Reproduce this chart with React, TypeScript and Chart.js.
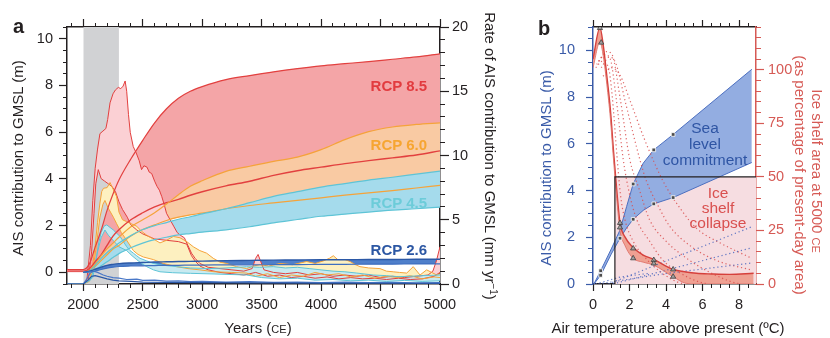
import React, { useEffect, useRef } from "react";
import { Chart, registerables } from "chart.js";

Chart.register(...registerables);

const FONT = "'Liberation Sans', Arial, Helvetica, sans-serif";
const DARK = "#231f20";

/* ================= Panel a data ================= */
const yearMin = 1863;
const yearMax = 5000;
const yearTicks = [2000, 2500, 3000, 3500, 4000, 4500, 5000];
const gmslTicks = [0, 2, 4, 6, 8, 10];
const rateTicks = [0, 5, 10, 15, 20];
const spinUpPeriod = [2000, 2300];

// AIS contribution to GMSL (m), left axis
const gmslYears = [1863, 2000, 2050, 2100, 2150, 2200, 2250, 2300, 2400, 2500, 2600, 2700, 2800, 2900, 3000, 3200, 3400, 3600, 3800, 4000, 4200, 4400, 4600, 4800, 5000];
const rcp85High = [0.12, 0.12, 0.35, 1.08, 1.8, 2.65, 3.35, 3.95, 4.85, 5.65, 6.4, 7.0, 7.45, 7.75, 7.95, 8.25, 8.42, 8.58, 8.72, 8.84, 8.93, 9.02, 9.12, 9.22, 9.35];
const rcp85Low = [0, 0, 0.04, 0.2, 0.45, 0.7, 0.95, 1.12, 1.5, 1.8, 2.0, 2.2, 2.35, 2.45, 2.52, 2.7, 2.85, 2.96, 3.07, 3.18, 3.29, 3.39, 3.49, 3.6, 3.71];
const rcp85Mid = [0.05, 0.05, 0.15, 0.45, 0.75, 1.15, 1.55, 1.82, 2.25, 2.55, 2.8, 2.98, 3.12, 3.3, 3.45, 3.7, 3.9, 4.15, 4.35, 4.5, 4.65, 4.78, 4.9, 5.02, 5.2];
const rcp60High = [null, 0, 0.08, 0.35, 0.7, 1.0, 1.25, 1.5, 1.95, 2.25, 2.55, 2.92, 3.32, 3.68, 3.92, 4.32, 4.54, 4.75, 4.93, 5.25, 5.68, 6.02, 6.22, 6.33, 6.4];
const rcp60Low = [null, 0, 0.05, 0.25, 0.5, 0.75, 1.0, 1.15, 1.55, 1.83, 2.03, 2.22, 2.36, 2.46, 2.53, 2.72, 2.86, 2.97, 3.08, 3.19, 3.3, 3.4, 3.5, 3.61, 3.72];
const rcp45High = [null, 0, 0.05, 0.3, 0.6, 0.85, 1.05, 1.25, 1.57, 1.83, 2.0, 2.13, 2.27, 2.38, 2.5, 2.72, 2.98, 3.25, 3.45, 3.65, 3.8, 3.95, 4.07, 4.2, 4.33];
const rcp45Low = [null, 0, 0.02, 0.1, 0.28, 0.45, 0.63, 0.8, 1.05, 1.25, 1.4, 1.5, 1.6, 1.66, 1.72, 1.82, 1.95, 2.12, 2.26, 2.4, 2.49, 2.58, 2.66, 2.72, 2.79];
const rcp26High = [null, 0, 0.05, 0.13, 0.22, 0.3, 0.34, 0.37, 0.4, 0.42, 0.44, 0.45, 0.46, 0.47, 0.48, 0.5, 0.51, 0.52, 0.53, 0.54, 0.54, 0.55, 0.55, 0.56, 0.56];
const rcp26Low = [null, 0, 0.02, 0.05, 0.12, 0.18, 0.22, 0.25, 0.27, 0.28, 0.29, 0.3, 0.3, 0.31, 0.31, 0.32, 0.32, 0.33, 0.33, 0.34, 0.34, 0.35, 0.35, 0.36, 0.36];

// Rate of AIS contribution (mm/yr), right axis: [year, value]
const rate85High = [[1863, 0], [2000, 0], [2030, 0.3], [2060, 3.0], [2080, 6.5], [2100, 9.0], [2120, 10.5], [2140, 11.7], [2165, 11.9], [2190, 12.1], [2205, 12.8], [2225, 14.1], [2250, 14.8], [2270, 15.1], [2295, 15.3], [2315, 15.2], [2335, 15.4], [2352, 15.8], [2365, 15.0], [2380, 13.2], [2395, 11.8], [2420, 10.7], [2445, 10.2], [2470, 9.6], [2490, 8.9], [2510, 9.2], [2535, 9.1], [2555, 8.7], [2575, 8.6], [2600, 8.0], [2620, 7.6], [2640, 7.3], [2660, 6.8], [2680, 6.2], [2700, 5.5], [2730, 5.0], [2760, 4.5], [2790, 4.0], [2815, 3.8], [2850, 3.6], [2880, 3.0], [2910, 2.4], [2940, 2.0], [2980, 1.6], [3050, 1.3], [3150, 1.2], [3250, 1.1], [3350, 1.0], [3420, 1.2], [3450, 2.0], [3470, 2.3], [3490, 1.8], [3520, 1.1], [3600, 0.9], [3700, 0.8], [3800, 0.9], [3900, 0.7], [4000, 0.8], [4100, 0.6], [4200, 0.7], [4300, 0.6], [4400, 0.7], [4500, 0.5], [4600, 0.6], [4700, 0.5], [4800, 0.6], [4900, 0.7], [4940, 1.0], [4970, 1.8], [5000, 2.9]];
const rate85Low = [[1863, 0], [2000, 0], [2040, 0.2], [2070, 2.5], [2090, 5.5], [2105, 7.8], [2126, 8.9], [2150, 8.2], [2180, 8.0], [2210, 7.8], [2240, 7.6], [2270, 7.2], [2300, 6.4], [2330, 5.8], [2370, 5.2], [2400, 4.6], [2450, 4.2], [2500, 3.9], [2550, 3.7], [2600, 3.5], [2700, 3.4], [2800, 3.3], [2870, 3.1], [2910, 2.2], [2940, 1.8], [2980, 1.4], [3050, 1.1], [3150, 0.9], [3250, 0.8], [3350, 0.7], [3450, 0.9], [3550, 0.6], [3650, 0.7], [3750, 0.5], [3850, 0.6], [3950, 0.45], [4050, 0.55], [4150, 0.4], [4250, 0.5], [4350, 0.4], [4450, 0.45], [4550, 0.35], [4650, 0.45], [4750, 0.35], [4850, 0.4], [4950, 0.6], [5000, 0.9]];
const rate60High = [[1863, 0], [2000, 0], [2050, 0.3], [2080, 1.5], [2100, 3.0], [2120, 4.8], [2140, 6.3], [2155, 7.2], [2170, 7.45], [2200, 7.5], [2225, 7.9], [2250, 7.4], [2280, 6.8], [2300, 5.6], [2330, 5.0], [2365, 4.85], [2400, 4.7], [2449, 4.5], [2490, 4.1], [2533, 3.8], [2590, 3.5], [2645, 3.2], [2700, 3.4], [2757, 3.7], [2813, 3.6], [2870, 3.3], [2925, 2.9], [2980, 2.6], [3037, 2.4], [3093, 2.0], [3150, 1.7], [3206, 1.6], [3290, 1.35], [3374, 1.2], [3430, 1.4], [3486, 1.5], [3560, 1.4], [3654, 1.6], [3760, 1.5], [3878, 1.75], [3950, 1.6], [4020, 1.8], [4070, 2.0], [4103, 2.2], [4140, 1.9], [4200, 1.9], [4243, 1.75], [4290, 1.5], [4327, 1.35], [4400, 1.25], [4495, 1.2], [4550, 1.0], [4607, 0.95], [4660, 0.9], [4720, 0.85], [4775, 1.35], [4832, 0.7], [4888, 1.1], [4930, 0.9], [4972, 0.7], [5000, 0.8]];
const rate60Low = [[1863, 0], [2000, 0], [2050, 0.2], [2080, 1.0], [2110, 3.0], [2140, 5.2], [2165, 6.2], [2182, 6.5], [2210, 5.9], [2253, 5.2], [2280, 4.7], [2320, 4.0], [2365, 3.4], [2421, 2.6], [2460, 2.3], [2505, 2.1], [2589, 1.9], [2673, 1.6], [2785, 1.35], [2880, 1.2], [2980, 1.1], [3100, 0.95], [3250, 0.9], [3374, 0.85], [3450, 0.6], [3550, 0.8], [3650, 0.5], [3750, 0.7], [3850, 0.6], [3950, 0.9], [4050, 0.7], [4150, 0.8], [4250, 0.55], [4350, 0.7], [4450, 0.45], [4550, 0.6], [4650, 0.5], [4750, 0.65], [4850, 0.4], [4950, 0.55], [5000, 0.5]];
const rate45High = [[1863, 0], [2000, 0], [2060, 0.3], [2100, 1.5], [2130, 3.2], [2150, 4.0], [2175, 4.5], [2197, 4.6], [2225, 4.4], [2253, 4.2], [2281, 3.95], [2309, 3.7], [2337, 3.3], [2365, 2.9], [2393, 2.6], [2421, 2.4], [2449, 2.2], [2477, 2.0], [2533, 1.8], [2589, 1.6], [2680, 1.45], [2785, 1.35], [2900, 1.25], [3065, 1.2], [3200, 1.25], [3374, 1.35], [3480, 1.3], [3598, 1.35], [3700, 1.25], [3800, 1.3], [3900, 1.2], [4000, 1.1], [4100, 1.0], [4200, 0.95], [4300, 0.85], [4439, 0.7], [4550, 0.65], [4650, 0.57], [4750, 0.6], [4850, 0.65], [5000, 0.7]];
const rate45Low = [[1863, 0], [2000, 0], [2080, 0.5], [2120, 2.5], [2150, 3.6], [2182, 4.2], [2210, 3.8], [2250, 3.4], [2300, 2.9], [2365, 2.6], [2410, 2.2], [2449, 1.9], [2490, 1.6], [2533, 1.35], [2590, 1.1], [2645, 0.95], [2750, 0.88], [2900, 0.83], [3100, 0.78], [3374, 0.7], [3500, 0.5], [3650, 0.4], [3800, 0.45], [3950, 0.3], [4100, 0.35], [4250, 0.25], [4400, 0.3], [4550, 0.2], [4700, 0.28], [4850, 0.2], [5000, 0.25]];
const rate26High = [[1863, 0], [2000, 0], [2030, 0.4], [2056, 0.83], [2084, 1.0], [2120, 0.9], [2168, 0.7], [2200, 0.6], [2250, 0.5], [2300, 0.45], [2365, 0.35], [2450, 0.38], [2500, 0.28], [2600, 0.3], [2700, 0.22], [2800, 0.25], [2900, 0.18], [3000, 0.2], [3200, 0.15], [3400, 0.18], [3600, 0.12], [3800, 0.15], [4000, 0.1], [4200, 0.14], [4400, 0.1], [4600, 0.12], [4800, 0.08], [5000, 0.1]];
const rate26Low = [[1863, 0], [2000, 0], [2040, 0.3], [2070, 0.6], [2100, 0.65], [2140, 0.55], [2200, 0.4], [2250, 0.3], [2300, 0.25], [2400, 0.2], [2500, 0.15], [2700, 0.12], [3000, 0.1], [3500, 0.08], [4000, 0.06], [4500, 0.06], [5000, 0.05]];

/* ================= Panel b data ================= */
const tempMax = 8.93;
const tempTicks = [0, 2, 4, 6, 8];
const commitTicks = [0, 2, 4, 6, 8, 10];
const areaTicks = [0, 25, 50, 75, 100];

// Sea level commitment (m)
const commitTemps = [0.05, 0.42, 1.0, 1.48, 1.84, 2.2, 2.75, 3.33, 4.39, 8.7];
const commitHigh = [0, 0.57, 1.5, 2.31, 3.31, 4.28, 5.17, 5.74, 6.4, 9.19];
const commitLow = [0, 0.37, 1.28, 1.96, 2.4, 2.77, 3.15, 3.43, 3.7, 5.2];
const commitMarkTemps = [0.42, 0.42, 1.48, 2.2, 2.2, 3.33, 3.33, 4.39, 4.39];
const commitMarkValues = [0.57, 0.37, 1.96, 4.28, 2.77, 5.74, 3.43, 6.4, 3.7];

// Ice shelf area at 5000 CE (% of present)
const iceTemps = [0, 0.38, 0.57, 0.76, 0.95, 1.13, 1.3, 1.48, 1.75, 2.2, 2.75, 3.33, 4.39, 5.1, 5.67, 6.5, 7.49, 8.8];
const iceHigh = [105, 119.7, 111, 97, 81.7, 61.5, 44, 28.5, 22, 17, 13.5, 11.5, 6.8, 5.6, 5.0, 4.7, 4.5, 5.0];
const iceLow = [101, 113, 106, 93, 77.5, 57.5, 40, 25, 18, 12, 10.2, 8.8, 3.4, 0.3, 0, 0, 0, 0];
const iceMarkTemps = [0.38, 0.45, 1.48, 1.48, 2.2, 2.2, 3.33, 3.33, 4.39, 4.39];
const iceMarkValues = [119.5, 112.7, 28.5, 26.4, 16.6, 12.0, 11.2, 9.6, 6.8, 3.4];

// Ice shelf collapse threshold
const collapseTemps = [1.2, 1.2, tempMax];
const collapseArea = [0, 50, 50];

// Individual runs (dotted)
const areaRuns = [
  [[0.15, 101], [0.5, 104], [0.85, 101], [1.05, 88], [1.33, 58], [1.5, 42], [1.75, 30], [2.2, 20], [3.0, 11], [3.8, 5], [4.6, 1], [5.0, 0]],
  [[0.2, 102.5], [0.65, 107], [0.95, 105], [1.25, 88], [1.66, 58], [2.0, 42], [2.4, 30], [3.1, 20], [3.84, 11], [4.8, 5], [5.8, 1], [6.3, 0]],
  [[0.3, 104], [0.75, 108.5], [1.05, 107], [1.5, 86], [2.02, 58], [2.5, 45], [3.1, 30], [4.0, 20], [5.3, 11], [6.5, 5], [7.6, 1], [8.1, 0]],
  [[0.45, 101], [0.9, 106], [1.25, 103], [1.8, 84], [2.57, 58], [2.93, 48], [3.6, 36], [4.2, 27], [5.3, 18], [6.76, 11], [8.7, 6.5]],
  [[0.55, 97], [1.0, 101], [1.45, 98], [2.1, 84], [2.8, 68], [3.84, 48], [4.8, 35], [5.67, 26], [7.0, 19], [8.2, 14], [8.7, 12]],
];
const gmslRuns = [
  [[0.85, 0], [8.7, 2.45]],
  [[1.1, 0], [8.7, 1.55]],
  [[0.3, 0], [4.0, 0.45], [8.7, 0.9]],
  [[0.15, 0], [1.5, 0.3], [3.0, 0.45]],
];

/* ================= helpers ================= */
const pairs = (p: number[][]) => p.map(([x, y]) => ({ x, y }));
const zip = (xs: number[], ys: (number | null)[]) => xs.map((x, i) => ({ x, y: ys[i] }));
const steps = (from: number, to: number, step: number) => {
  const out: number[] = [];
  for (let v = from; v <= to + 1e-9; v += step) out.push(+v.toFixed(3));
  return out;
};

function major(position: string, min: number, max: number, ticks: number[], size: number, tickLen: number, color: string, o: any = {}) {
  const horiz = position === "top" || position === "bottom";
  return {
    type: "linear",
    position,
    min,
    max,
    weight: 1,
    afterFit: (s: any) => {
      if (horiz) s.height = size;
      else s.width = size;
    },
    afterBuildTicks: (s: any) => {
      s.ticks = ticks.map((v) => ({ value: v }));
    },
    ticks: {
      display: o.labels !== false,
      autoSkip: false,
      maxRotation: 0,
      minRotation: 0,
      padding: o.padding ?? 3,
      color,
      font: { size: 14.5, family: FONT },
      callback: (v: any) => String(v),
    },
    grid: { display: true, drawOnChartArea: false, drawTicks: true, tickLength: tickLen, color, tickWidth: 1.2 },
    border: { display: true, color: o.borderColor ?? color, width: 1.5 },
    title: { display: false },
  };
}

function minor(position: string, min: number, max: number, ticks: number[], tickLen: number, color: string) {
  const horiz = position === "top" || position === "bottom";
  return {
    type: "linear",
    position,
    min,
    max,
    weight: 0,
    afterFit: (s: any) => {
      if (horiz) s.height = 0;
      else s.width = 0;
    },
    afterBuildTicks: (s: any) => {
      s.ticks = ticks.map((v) => ({ value: v }));
    },
    ticks: { display: false },
    grid: { display: true, drawOnChartArea: false, drawTicks: true, tickLength: tickLen, color, tickWidth: 1 },
    border: { display: false },
    title: { display: false },
  };
}

function builder() {
  const ds: any[] = [];
  const add = (d: any) => {
    ds.push({
      type: "line",
      pointRadius: 0,
      pointHoverRadius: 0,
      borderWidth: 1,
      borderColor: "rgba(0,0,0,0)",
      fill: false,
      tension: 0,
      xAxisID: "x",
      yAxisID: "y",
      ...d,
    });
  };
  const band = (lo: any[], hi: any[], color: string, axis: string, smooth = false) => {
    const mode = smooth ? "monotone" : "default";
    add({ data: lo, yAxisID: axis, cubicInterpolationMode: mode });
    add({ data: hi, yAxisID: axis, cubicInterpolationMode: mode, fill: "-1", backgroundColor: color });
  };
  const line = (data: any[], color: string, width: number, axis: string, smooth = false, dash?: number[]) => {
    add({ data, yAxisID: axis, borderColor: color, borderWidth: width, borderDash: dash || [], cubicInterpolationMode: smooth ? "monotone" : "default" });
  };
  const done = () => {
    ds.forEach((d, i) => (d.order = -i));
    return ds;
  };
  return { ds, add, band, line, done };
}

/* ================= colours ================= */
const RED = "#e2403f";
const ORANGE = "#f5a33a";
const CYAN = "#5ec4d6";
const BLUE = "#2b58a6";
const GREY = "#d1d2d4";
const B_BLUE = "#3a5ba8";
const B_RED = "#d65a55";

function datasetsA() {
  const b = builder();
  b.add({ data: pairs([[spinUpPeriod[0], 10.5], [spinUpPeriod[1], 10.5]]), fill: "start", backgroundColor: GREY });
  b.band(zip(gmslYears, rcp85Low), zip(gmslYears, rcp85High), "#f4a5a7", "y", true);
  b.band(zip(gmslYears, rcp60Low), zip(gmslYears, rcp60High), "#f9caa3", "y", true);
  b.band(zip(gmslYears, rcp45Low), zip(gmslYears, rcp45High), "#a5dbec", "y", true);
  b.band(zip(gmslYears, rcp26Low), zip(gmslYears, rcp26High), "#4f7fca", "y", true);
  b.band(pairs(rate85Low), pairs(rate85High), "#fbd0d4", "y2");
  b.band(pairs(rate60Low), pairs(rate60High), "#fdf0c0", "y2");
  b.band(pairs(rate45Low), pairs(rate45High), "#c8eaf0", "y2");
  b.line(pairs(rate85High), RED, 1, "y2");
  b.line(pairs(rate85Low), RED, 1, "y2");
  b.line(pairs(rate60High), ORANGE, 1, "y2");
  b.line(pairs(rate60Low), ORANGE, 1, "y2");
  b.line(pairs(rate45High), CYAN, 1, "y2");
  b.line(pairs(rate45Low), CYAN, 1, "y2");
  b.line(pairs(rate26High), "#4a78c8", 1.2, "y2");
  b.line(pairs(rate26Low), BLUE, 1.2, "y2");
  b.line(zip(gmslYears, rcp85High), RED, 1.2, "y", true);
  b.line(zip(gmslYears, rcp85Mid), RED, 1.4, "y", true);
  b.line(zip(gmslYears, rcp60High), ORANGE, 1.2, "y", true);
  b.line(zip(gmslYears, rcp60Low), ORANGE, 1.2, "y", true);
  b.line(zip(gmslYears, rcp45High), CYAN, 1.2, "y", true);
  b.line(zip(gmslYears, rcp45Low), CYAN, 1.2, "y", true);
  b.line(zip(gmslYears, rcp26High), BLUE, 1.4, "y", true);
  b.line(zip(gmslYears, rcp26Low), "#3f6fc0", 1.2, "y", true);
  return b.done();
}

function datasetsB() {
  const b = builder();
  b.add({ data: zip(collapseTemps.slice(1), collapseArea.slice(1)), yAxisID: "y2", fill: "origin", backgroundColor: "#f6dde1" });
  b.band(zip(commitTemps, commitLow), zip(commitTemps, commitHigh), "#93ade1", "y");
  b.line(zip(commitTemps, commitHigh), "#4c6fc0", 1, "y");
  b.line(zip(commitTemps, commitLow), "#4c6fc0", 1, "y");
  b.band(zip(iceTemps, iceLow), zip(iceTemps, iceHigh), "#efa193", "y2", true);
  areaRuns.forEach((r) => b.line(pairs(r), "rgba(217,75,75,0.85)", 1.2, "y2", true, [1.2, 2.8]));
  gmslRuns.forEach((r) => b.line(pairs(r), "rgba(70,100,190,0.85)", 1.2, "y", false, [1.2, 2.8]));
  b.line(zip(iceTemps, iceHigh), "#d6403c", 1.4, "y2", true);
  b.line(zip(iceTemps, iceLow), "#e0736b", 0.9, "y2", true);
  b.line(zip(collapseTemps, collapseArea), DARK, 1.2, "y2");
  b.add({
    data: zip(commitMarkTemps, commitMarkValues),
    yAxisID: "y",
    showLine: false,
    pointRadius: 2.6,
    pointStyle: "rect",
    pointBackgroundColor: "#4d4d4d",
    pointBorderColor: "#ffffff",
    pointBorderWidth: 0.8,
  });
  b.add({
    data: zip(iceMarkTemps, iceMarkValues),
    yAxisID: "y2",
    showLine: false,
    pointRadius: 3,
    pointStyle: "triangle",
    pointBackgroundColor: "#a0a0a0",
    pointBorderColor: "#3d3d3d",
    pointBorderWidth: 0.8,
  });
  return b.done();
}

const common = {
  responsive: false,
  maintainAspectRatio: false,
  animation: false,
  events: [],
  layout: { padding: 0 },
  plugins: { legend: { display: false }, tooltip: { enabled: false }, title: { display: false } },
};

function configA(): any {
  return {
    type: "line",
    data: { datasets: datasetsA() },
    options: {
      ...common,
      scales: {
        x: major("bottom", yearMin, yearMax, yearTicks, 54, 7, DARK, { padding: 5 }),
        xMinor: minor("bottom", yearMin, yearMax, steps(1900, 5000, 100), 4, DARK),
        xTop: major("top", yearMin, yearMax, yearTicks, 27, 8, DARK, { labels: false }),
        xTopMinor: minor("top", yearMin, yearMax, steps(1900, 5000, 100), 4, DARK),
        y: major("left", -0.5, 10.5, gmslTicks, 67, 8, DARK, { padding: 6 }),
        yMinor: minor("left", -0.5, 10.5, steps(-0.5, 10.5, 0.5), 4, DARK),
        y2: major("right", 0, 20, rateTicks, 80, 9, DARK, { padding: 3 }),
        y2Minor: minor("right", 0, 20, steps(0, 20, 1), 5, DARK),
      },
    },
  };
}

function configB(): any {
  return {
    type: "line",
    data: { datasets: datasetsB() },
    options: {
      ...common,
      scales: {
        x: major("bottom", 0, tempMax, tempTicks, 54, 7, DARK, { padding: 5 }),
        xMinor: minor("bottom", 0, tempMax, steps(0, 8.5, 0.5), 4, DARK),
        xTop: major("top", 0, tempMax, tempTicks, 27, 7, DARK, { labels: false }),
        xTopMinor: minor("top", 0, tempMax, steps(0, 8.5, 0.5), 4, DARK),
        y: major("left", 0, 11, commitTicks, 73, 7, B_BLUE, { padding: 11 }),
        yMinor: minor("left", 0, 11, steps(0, 11, 0.5), 5, B_BLUE),
        y2: major("right", 0, 120, areaTicks, 74, 8, B_RED, { padding: 4 }),
        y2Minor: minor("right", 0, 120, steps(0, 120, 5), 5, B_RED),
      },
    },
  };
}

function Label(props: { children: any; x: number; baseline: number; size: number; color: string; bold?: boolean; align?: "left" | "right" | "center" }) {
  const { children, x, baseline, size, color, bold, align = "left" } = props;
  const style: any = {
    position: "absolute",
    top: baseline - 0.8465 * size,
    whiteSpace: "nowrap",
    fontFamily: FONT,
    fontSize: size,
    lineHeight: `${size}px`,
    color,
    fontWeight: bold ? 700 : 400,
  };
  if (align === "right") style.right = 830 - x;
  else if (align === "center") {
    style.left = x;
    style.transform = "translateX(-50%)";
  } else style.left = x;
  return <div style={style}>{children}</div>;
}

// axis title centred at integer (cx, cy) in a fixed box, optionally rotated
function AxisTitle(props: { children: any; cx: number; cy: number; rotate?: number; color: string; size?: number }) {
  const { children, cx, cy, rotate = 0, color, size = 15 } = props;
  const W = 400;
  const H = 18;
  return (
    <div
      style={{
        position: "absolute",
        left: cx - W / 2,
        top: cy - H / 2,
        width: W,
        height: H,
        transform: rotate ? `rotate(${rotate}deg)` : undefined,
        transformOrigin: "50% 50%",
        textAlign: "center",
        whiteSpace: "nowrap",
        fontFamily: FONT,
        fontSize: size,
        lineHeight: `${H}px`,
        color,
      }}
    >
      {children}
    </div>
  );
}

const smallCaps = { fontSize: 11 };

export default function App() {
  const aRef = useRef<HTMLCanvasElement>(null);
  const bRef = useRef<HTMLCanvasElement>(null);
  useEffect(() => {
    const ca = new Chart(aRef.current as HTMLCanvasElement, configA());
    const cb = new Chart(bRef.current as HTMLCanvasElement, configB());
    return () => {
      ca.destroy();
      cb.destroy();
    };
  }, []);
  return (
    <div style={{ position: "absolute", left: 0, top: 0, width: 830, height: 338, background: "#fff", overflow: "hidden" }}>
      <canvas ref={aRef} width={520} height={338} style={{ position: "absolute", left: 0, top: 0, width: 520, height: 338 }} />
      <canvas ref={bRef} width={310} height={338} style={{ position: "absolute", left: 520, top: 0, width: 310, height: 338 }} />

      {/* axis titles */}
      <AxisTitle cx={18} cy={158} rotate={-90} color={DARK}>AIS contribution to GMSL (m)</AxisTitle>
      <AxisTitle cx={490} cy={156} rotate={90} color={DARK}>
        Rate of AIS contribution to GMSL (mm yr<span style={{ fontSize: 10, position: "relative", top: -5 }}>{"\u22121"}</span>)
      </AxisTitle>
      <AxisTitle cx={258} cy={328} color={DARK}>
        Years (<span style={smallCaps}>CE</span>)
      </AxisTitle>
      <AxisTitle cx={546} cy={168} rotate={-90} color={B_BLUE}>AIS contribution to GMSL (m)</AxisTitle>
      <AxisTitle cx={817} cy={171} rotate={90} color={B_RED}>
        Ice shelf area at 5000 <span style={smallCaps}>CE</span>
      </AxisTitle>
      <AxisTitle cx={800} cy={175} rotate={90} color={B_RED}>(as percentage of present-day area)</AxisTitle>
      <AxisTitle cx={668} cy={328} color={DARK}>Air temperature above present (ºC)</AxisTitle>

      {/* panel letters */}
      <Label x={13} baseline={33.3} size={20} color={DARK} bold>a</Label>
      <Label x={538} baseline={35} size={20} color={DARK} bold>b</Label>

      {/* scenario labels */}
      <Label x={427} baseline={90.7} size={15} color="#e23b3f" bold align="right">RCP 8.5</Label>
      <Label x={427} baseline={150} size={15} color="#f6a531" bold align="right">RCP 6.0</Label>
      <Label x={427} baseline={208} size={15} color="#6cccd9" bold align="right">RCP 4.5</Label>
      <Label x={427} baseline={255} size={15} color="#2c57a3" bold align="right">RCP 2.6</Label>

      {/* panel b annotations */}
      <Label x={705} baseline={133.3} size={15.5} color="#2f55a4" align="center">Sea</Label>
      <Label x={705} baseline={149.5} size={15.5} color="#2f55a4" align="center">level</Label>
      <Label x={705} baseline={165} size={15.5} color="#2f55a4" align="center">commitment</Label>
      <Label x={718} baseline={198.3} size={15.5} color="#d9504f" align="center">Ice</Label>
      <Label x={718} baseline={213.3} size={15.5} color="#d9504f" align="center">shelf</Label>
      <Label x={718} baseline={228.3} size={15.5} color="#d9504f" align="center">collapse</Label>
    </div>
  );
}
